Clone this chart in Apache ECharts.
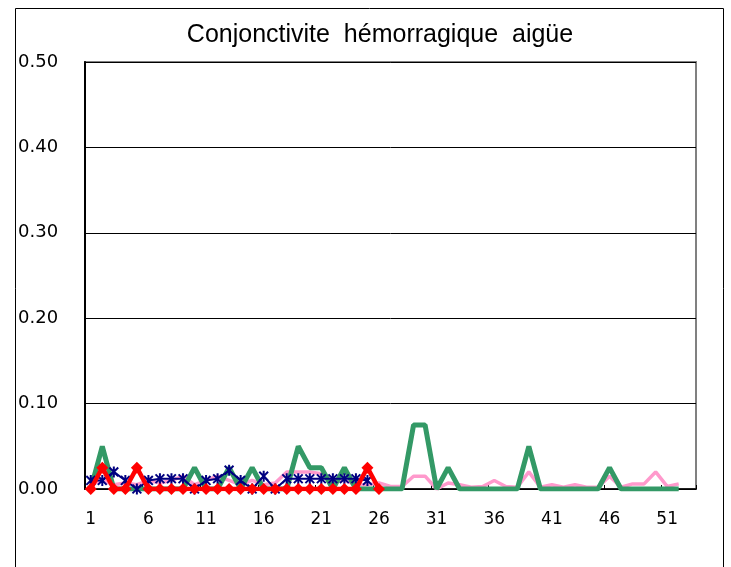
<!DOCTYPE html>
<html>
<head>
<meta charset="utf-8">
<script src="https://cdn.jsdelivr.net/npm/echarts@6/dist/echarts.min.js"></script>
<style>
  html, body { margin: 0; padding: 0; background: #fff; }
  #chart { width: 731px; height: 567px; }
</style>
</head>
<body>
<div id="chart"></div>
<script>
// weeks 1..53
var weeks = [];
for (var w = 1; w <= 53; w++) weeks.push(String(w));

var yTicks = [0, 0.1, 0.2, 0.3, 0.4, 0.5];

// pink series (full year)
var pinkValues = [0.005, 0.01, 0.005, 0.007, 0.005, 0.01, 0.007, 0.01, 0.015, 0.005,
  0.01, 0.015, 0.01, 0.005, 0.01, 0.005, 0.007, 0.02, 0.02, 0.02,
  0.018, 0.01, 0.01, 0.005, 0.005, 0.007, 0.003, 0.003, 0.015, 0.015,
  0, 0.007, 0.005, 0.002, 0.003, 0.01, 0.003, 0.002, 0.02, 0.002,
  0.005, 0.002, 0.005, 0.002, 0.002, 0.015, 0.002, 0.006, 0.006, 0.02,
  0.003, 0.006, null];

// green series (full year)
var greenValues = [0, 0.05, 0, 0, 0, 0, 0, 0, 0, 0.025,
  0, 0, 0.025, 0, 0.025, 0, 0, 0, 0.05, 0.025,
  0.025, 0, 0.025, 0, 0, 0, 0, 0, 0.075, 0.075,
  0, 0.025, 0, 0, 0, 0, 0, 0, 0.05, 0,
  0, 0, 0, 0, 0, 0.025, 0, 0, 0, 0,
  0, 0, null];

// navy series with star markers (weeks 1..25)
var navyValues = [0.01, 0.01, 0.02, 0.01, 0, 0.01, 0.012, 0.012, 0.012, 0,
  0.01, 0.012, 0.022, 0.01, 0, 0.015, 0, 0.012, 0.012, 0.012,
  0.012, 0.012, 0.012, 0.012, 0.01];

// red series with diamond markers (weeks 1..26)
var redValues = [0, 0.025, 0, 0, 0.025, 0, 0, 0, 0, 0,
  0, 0, 0, 0, 0, 0, 0, 0, 0, 0,
  0, 0, 0, 0, 0.025, 0];

var chart = echarts.init(document.getElementById('chart'));

var option = {
  animation: false,
  backgroundColor: '#fff',
  title: {
    text: 'Conjonctivite  hémorragique  aigüe',
    left: 375,
    top: 18,
    textAlign: 'center',
    textStyle: {
      fontFamily: 'Liberation Sans',
      fontSize: 25,
      fontWeight: 'normal',
      color: '#000'
    }
  },
  graphic: [{
    type: 'rect',
    shape: { x: 15.5, y: 8.5, width: 708, height: 620 },
    style: { fill: 'none', stroke: '#000', lineWidth: 1 },
    silent: true
  }],
  grid: {
    left: 85,
    right: 35,
    top: 62,
    bottom: 78,
    show: true,
    borderColor: '#808080',
    borderWidth: 2
  },
  xAxis: {
    type: 'category',
    data: weeks,
    boundaryGap: true,
    axisLine: { lineStyle: { color: '#000', width: 1.5 } },
    axisTick: { show: true, inside: true, length: 4, interval: 4, lineStyle: { color: '#000' } },
    axisLabel: {
      interval: 4,
      margin: 22,
      fontFamily: 'DejaVu Sans',
      fontSize: 17,
      color: '#000'
    },
    splitLine: { show: false }
  },
  yAxis: {
    type: 'value',
    min: yTicks[0],
    max: yTicks[yTicks.length - 1],
    interval: 0.1,
    axisLine: { show: true, lineStyle: { color: '#000', width: 2 } },
    axisTick: { show: false },
    axisLabel: {
      align: 'left',
      margin: 67,
      fontFamily: 'DejaVu Sans',
      fontSize: 18,
      color: '#000',
      formatter: function (v) { return v.toFixed(2); }
    },
    splitLine: { show: true, lineStyle: { color: '#000', width: 1 } }
  },
  series: [
    {
      type: 'line',
      data: pinkValues,
      symbol: 'none',
      lineStyle: { color: '#ff99cc', width: 3.5 },
      z: 1
    },
    {
      type: 'line',
      data: greenValues,
      symbol: 'none',
      lineStyle: { color: '#339966', width: 5 },
      z: 2
    },
    {
      type: 'line',
      data: navyValues,
      symbol: 'path://M1,1L9,9M9,1L1,9M5,0L5,10',
      symbolSize: 11,
      symbolKeepAspect: true,
      showAllSymbol: true,
      itemStyle: { color: 'none', borderColor: '#000080', borderWidth: 2 },
      lineStyle: { color: '#000080', width: 2 },
      z: 3
    },
    {
      type: 'line',
      data: redValues,
      symbol: 'diamond',
      symbolSize: 12,
      showAllSymbol: true,
      itemStyle: { color: '#ff0000' },
      lineStyle: { color: '#ff0000', width: 4.5 },
      z: 4
    }
  ]
};

chart.setOption(option);
</script>
</body>
</html>
